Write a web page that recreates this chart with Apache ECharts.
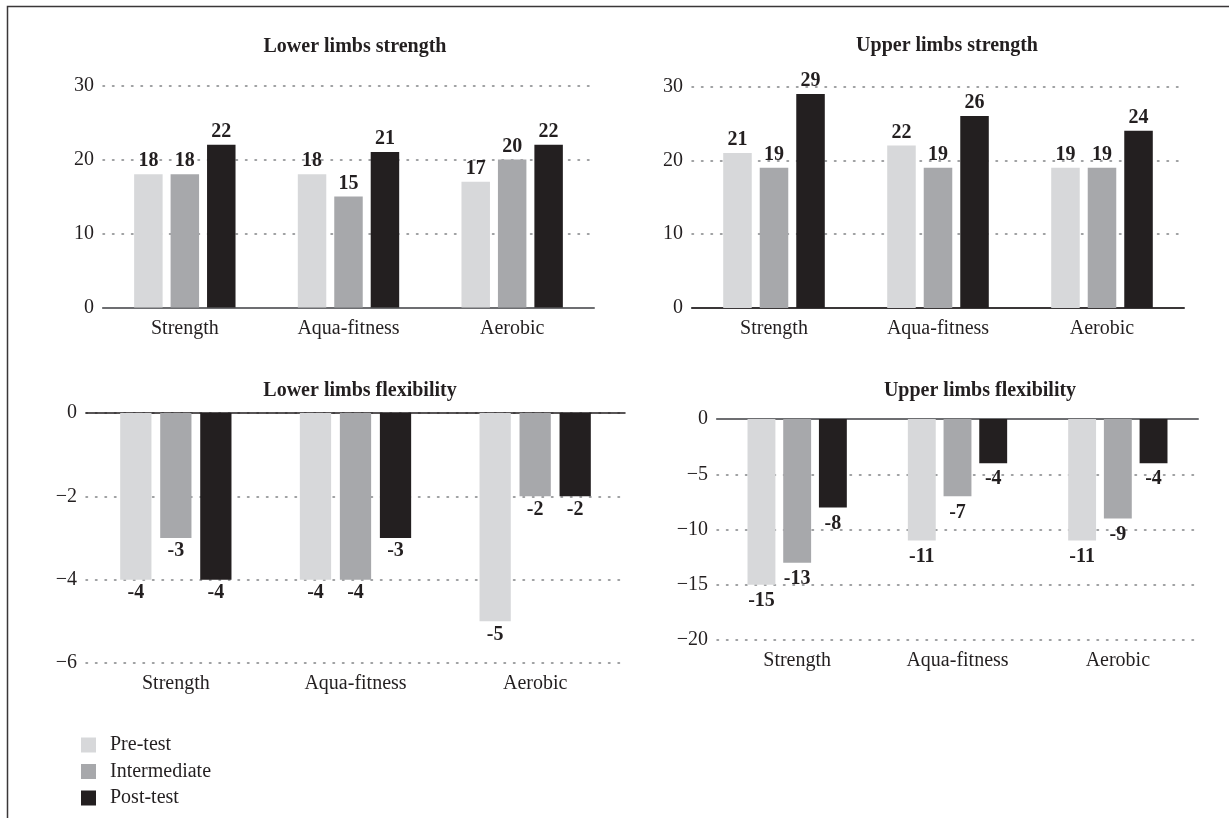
<!DOCTYPE html>
<html><head><meta charset="utf-8">
<script src="https://cdn.jsdelivr.net/npm/echarts@6/dist/echarts.min.js"></script>
<style>html,body{margin:0;padding:0;background:#fff}#c{width:1229px;height:818px}</style>
</head><body><div id="c"></div><script>
// ---- data ----
const categories = ['Strength', 'Aqua-fitness', 'Aerobic'];
const seriesNames = ['Pre-test', 'Intermediate', 'Post-test'];

const lowerStrengthPre = [18, 18, 17];
const lowerStrengthInter = [18, 15, 20];
const lowerStrengthPost = [22, 21, 22];
const lowerStrengthTicks = [0, 10, 20, 30];

const upperStrengthPre = [21, 22, 19];
const upperStrengthInter = [19, 19, 19];
const upperStrengthPost = [29, 26, 24];
const upperStrengthTicks = [0, 10, 20, 30];

const lowerFlexPre = [-4, -4, -5];
const lowerFlexInter = [-3, -4, -2];
const lowerFlexPost = [-4, -3, -2];
const lowerFlexTicks = [-6, -4, -2, 0];

const upperFlexPre = [-15, -11, -11];
const upperFlexInter = [-13, -7, -9];
const upperFlexPost = [-8, -4, -4];
const upperFlexTicks = [-20, -15, -10, -5, 0];

// ---- styling ----
const FONT = "'Liberation Serif', 'Times New Roman', serif";
const TXT = '#231f20';
const colors = ['#d7d8da', '#a7a8ab', '#231f20'];

const panels = [
  { title: 'Lower limbs strength', data: [lowerStrengthPre, lowerStrengthInter, lowerStrengthPost], ticks: lowerStrengthTicks,
    grid: { left: 103, top: 85.5, width: 491, height: 222 }, tx: 355, ty: 37, neg: false, axisColor: '#6d6e71', dist: 3 },
  { title: 'Upper limbs strength', data: [upperStrengthPre, upperStrengthInter, upperStrengthPost], ticks: upperStrengthTicks,
    grid: { left: 692, top: 86.5, width: 492, height: 221.5 }, tx: 947, ty: 36, neg: false, axisColor: '#3a3738', dist: 3 },
  { title: 'Lower limbs flexibility', data: [lowerFlexPre, lowerFlexInter, lowerFlexPost], ticks: lowerFlexTicks,
    grid: { left: 86, top: 413, width: 539, height: 250 }, tx: 360, ty: 381, neg: true, axisColor: '#231f20', dist: 3 },
  { title: 'Upper limbs flexibility', data: [upperFlexPre, upperFlexInter, upperFlexPost], ticks: upperFlexTicks,
    grid: { left: 717, top: 419, width: 481, height: 221 }, tx: 980, ty: 381, neg: true, axisColor: '#6d6e71', dist: 6 }
];

const grids = [], xAxes = [], yAxes = [], series = [], titles = [];
panels.forEach((p, i) => {
  grids.push(Object.assign({ containLabel: false, outerBoundsMode: 'none' }, p.grid));
  titles.push({ text: p.title, left: p.tx, top: p.ty, textAlign: 'center', padding: 0,
    textStyle: { fontFamily: FONT, fontSize: 20, fontWeight: 'bold', color: TXT } });
  const mainIdx = xAxes.length;
  xAxes.push({
    type: 'category', gridIndex: i, data: categories, position: 'bottom',
    axisLine: { show: !p.neg, onZero: false, lineStyle: { color: p.axisColor, width: 2 } },
    axisTick: { show: false }, splitLine: { show: false },
    axisLabel: { margin: 11, fontFamily: FONT, fontSize: 20, color: TXT }
  });
  if (p.neg) {
    xAxes.push({
      type: 'category', gridIndex: i, data: categories, position: 'top',
      axisLine: { show: true, onZero: false, lineStyle: { color: p.axisColor, width: i === 2 ? 1.5 : 2 } },
      axisTick: { show: false }, axisLabel: { show: false }, splitLine: { show: false }
    });
  }
  const mn = Math.min(...p.ticks), mx = Math.max(...p.ticks);
  yAxes.push({
    type: 'value', gridIndex: i, min: mn, max: mx, interval: p.ticks[1] - p.ticks[0],
    axisLine: { show: false }, axisTick: { show: false },
    axisLabel: { margin: 9, fontFamily: FONT, fontSize: 20, color: TXT,
      formatter: v => String(v).replace('-', '\u2212') },
    splitLine: { show: true, lineStyle: { color: '#808285', width: 1.5, type: [1.5, 8], cap: 'round' } }
  });
  p.data.forEach((arr, k) => {
    series.push({
      type: 'bar', name: seriesNames[k], xAxisIndex: mainIdx, yAxisIndex: i, data: arr,
      barWidth: '17.4%', barGap: '28%',
      itemStyle: { color: colors[k] },
      label: { show: true, position: p.neg ? 'bottom' : 'top', distance: p.dist,
        fontFamily: FONT, fontSize: 20, fontWeight: 'bold', color: TXT },
      emphasis: { disabled: true }
    });
  });
});

const chart = echarts.init(document.getElementById('c'), null, { renderer: 'canvas' });
chart.setOption({
  animation: false,
  backgroundColor: '#fff',
  textStyle: { fontFamily: FONT },
  title: titles,
  grid: grids,
  xAxis: xAxes,
  yAxis: yAxes,
  series: series,
  legend: {
    data: seriesNames, orient: 'vertical', left: 81, top: 735, padding: 0,
    itemWidth: 15, itemHeight: 15, itemGap: 6.5, icon: 'rect', selectedMode: false,
    textStyle: { fontFamily: FONT, fontSize: 20, color: TXT, padding: [0, 0, 0, 9] }
  },
  graphic: [{
    type: 'polyline', silent: true,
    shape: { points: [[7.5, 818], [7.5, 6.5], [1229, 6.5]] },
    style: { stroke: '#3a3738', lineWidth: 1.5, fill: null }
  }]
});
</script></body></html>
